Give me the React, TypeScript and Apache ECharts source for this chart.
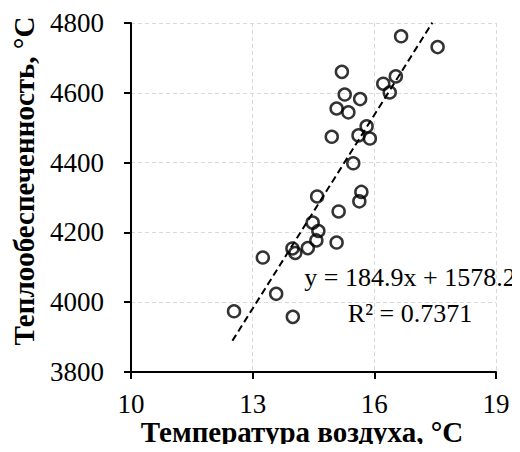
import React, { useEffect, useRef } from "react";
import * as echarts from "echarts";

const TEMP = [
  16.66, 17.56, 15.2, 16.22, 16.53, 16.38, 15.27, 15.65, 15.07, 15.36,
  15.81, 15.61, 15.89, 14.95, 15.48, 15.68, 14.59, 15.63, 15.12, 14.48,
  14.62, 14.57, 15.07, 14.36, 13.98, 14.05, 13.25, 13.58, 12.54, 13.99,
];
const HEAT = [
  4762, 4731, 4660, 4626, 4647, 4601, 4595, 4582, 4555, 4544,
  4504, 4478, 4469, 4474, 4398, 4316, 4303, 4289, 4260, 4228,
  4204, 4177, 4171, 4155, 4154, 4141, 4128, 4024, 3974, 3958,
];
const SLOPE = 184.9;
const INTERCEPT = 1578.2;
const TREND_X = [12.5, 17.43];
const EQ_TEXT = "y = 184.9x + 1578.2";
const R2_TEXT = "R² = 0.7371";
const X_TITLE = "Температура воздуха, °C";
const Y_TITLE = "Теплообеспеченность, °C";

const FONT = "Liberation Serif";

export default function App() {
  const ref = useRef<HTMLDivElement>(null);
  useEffect(() => {
    if (!ref.current) return;
    const chart = echarts.init(ref.current, undefined, { renderer: "svg" });
    const points = TEMP.map((t, i) => [t, HEAT[i]]);
    const trend = TREND_X.map((x) => [x, SLOPE * x + INTERCEPT]);
    const fmt = (v: number) => String(v);
    const textStyle = (text: string, size: number, bold = false) => ({
      text,
      fontFamily: FONT,
      fontSize: size,
      fontWeight: bold ? "bold" : "normal",
      fill: "#000",
      align: "center",
      verticalAlign: "middle",
    });
    chart.setOption({
      animation: false,
      backgroundColor: "#fff",
      textStyle: { fontFamily: FONT },
      grid: { left: 131, top: 23, right: 24, bottom: 80, containLabel: false },
      xAxis: {
        type: "value",
        min: 10,
        max: 19,
        interval: 3,
        axisLine: { show: true, lineStyle: { color: "#000", width: 2 } },
        axisTick: { show: true, length: 7, lineStyle: { color: "#000", width: 2 } },
        axisLabel: { fontFamily: FONT, fontSize: 27, color: "#000", margin: 18, formatter: fmt },
        splitLine: { show: true, lineStyle: { color: "#d9d9d9", type: [4, 3], width: 1 } },
      },
      yAxis: {
        type: "value",
        min: 3800,
        max: 4800,
        interval: 200,
        axisLine: { show: true, lineStyle: { color: "#000", width: 2 } },
        axisTick: { show: true, length: 7, lineStyle: { color: "#000", width: 2 } },
        axisLabel: { fontFamily: FONT, fontSize: 27, color: "#000", margin: 27, formatter: fmt },
        splitLine: { show: true, lineStyle: { color: "#d9d9d9", type: [4, 3], width: 1 } },
      },
      series: [
        {
          type: "line",
          data: trend,
          showSymbol: false,
          symbol: "none",
          lineStyle: { color: "#000", width: 2, type: [7, 4] },
          z: 3,
        },
        {
          type: "scatter",
          data: points,
          symbol: "circle",
          symbolSize: 12,
          itemStyle: { color: "rgba(255,255,255,0)", borderColor: "#000", borderWidth: 2.5 },
          z: 4,
        },
      ],
      graphic: [
        { type: "text", x: 410, y: 277, style: textStyle(EQ_TEXT, 26), z: 10 },
        { type: "text", x: 410, y: 313, style: textStyle(R2_TEXT, 26), z: 10 },
        { type: "text", x: 302, y: 432, style: textStyle(X_TITLE, 29, true), z: 10 },
        {
          type: "text",
          x: 24,
          y: 181,
          rotation: Math.PI / 2,
          style: textStyle(Y_TITLE, 29, true),
          z: 10,
        },
      ],
    });
    return () => chart.dispose();
  }, []);
  return <div ref={ref} style={{ width: 520, height: 452, margin: -8 }} />;
}
